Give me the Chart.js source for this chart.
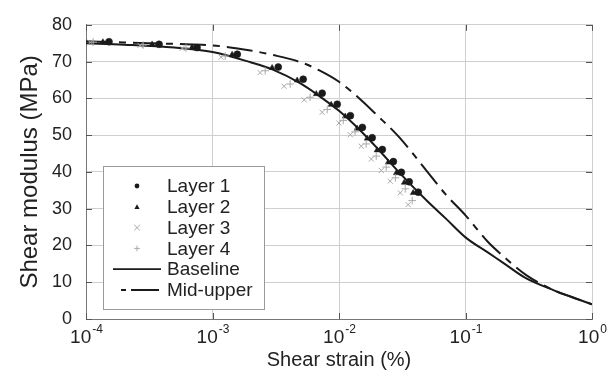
<!DOCTYPE html>
<html>
<head>
<meta charset="utf-8">
<script src="https://cdn.jsdelivr.net/npm/chart.js@4/dist/chart.umd.min.js"></script>
<style>
  html, body { margin: 0; padding: 0; background: #fff; }
  #wrap { width: 608px; height: 376px; }
</style>
</head>
<body>
<div id="wrap"><canvas id="chart"></canvas></div>
<script>
/* Shear modulus vs shear strain — layer test data + two reference curves */

// test points, strain in %, modulus in MPa
const layer1Strain  = [1.52e-4, 3.78e-4, 7.55e-4, 1.57e-3, 3.31e-3, 5.21e-3, 7.36e-3, 9.68e-3, 1.23e-2, 1.53e-2, 1.83e-2, 2.20e-2, 2.69e-2, 3.11e-2, 3.59e-2, 4.23e-2];
const layer1Modulus = [75.4, 74.7, 73.8, 72.0, 68.5, 65.2, 61.4, 58.4, 55.3, 52.1, 49.3, 46.1, 42.8, 39.9, 37.3, 34.5];

const layer2Strain  = [1.36e-4, 3.33e-4, 6.90e-4, 1.43e-3, 2.96e-3, 4.67e-3, 6.61e-3, 8.67e-3, 1.12e-2, 1.39e-2, 1.67e-2, 2.00e-2, 2.45e-2, 2.84e-2, 3.28e-2, 3.86e-2];
const layer2Modulus = [75.3, 74.7, 73.9, 71.9, 68.3, 64.9, 61.2, 58.3, 55.1, 51.8, 49.1, 45.9, 42.6, 39.7, 37.1, 34.3];

const layer3Strain  = [1.08e-4, 2.67e-4, 5.75e-4, 1.17e-3, 2.38e-3, 3.68e-3, 5.31e-3, 7.36e-3, 1.00e-2, 1.23e-2, 1.50e-2, 1.80e-2, 2.16e-2, 2.54e-2, 3.05e-2, 3.52e-2];
const layer3Modulus = [75.2, 74.4, 73.6, 71.2, 67.0, 63.3, 59.6, 56.2, 53.3, 50.1, 47.0, 43.5, 40.4, 37.5, 34.3, 31.1];

const layer4Strain  = [1.14e-4, 2.83e-4, 6.18e-4, 1.26e-3, 2.61e-3, 4.11e-3, 5.91e-3, 8.07e-3, 1.08e-2, 1.34e-2, 1.64e-2, 1.97e-2, 2.36e-2, 2.79e-2, 3.34e-2, 3.79e-2];
const layer4Modulus = [75.3, 74.5, 73.7, 71.5, 67.5, 63.9, 60.3, 57.0, 54.0, 50.9, 47.6, 44.3, 41.3, 38.4, 35.4, 32.2];

// reference curves
const curveStrain     = [1e-4, 2e-4, 5e-4, 1e-3, 2e-3, 3e-3, 5e-3, 7e-3, 1e-2, 1.5e-2, 2e-2, 3e-2, 5e-2, 7e-2, 0.1, 0.15, 0.2, 0.3, 0.5, 0.7, 1];
const baselineModulus = [75.0, 74.6, 73.8, 72.6, 69.8, 67.8, 64.0, 60.6, 56.6, 51.0, 46.5, 39.8, 32.0, 27.3, 22.2, 18.1, 15.2, 11.1, 7.8, 5.9, 4.0];
const midUpperModulus = [75.5, 75.2, 74.8, 74.4, 73.0, 71.8, 69.8, 67.6, 64.5, 59.5, 55.4, 49.4, 40.0, 33.8, 28.2, 21.0, 17.0, 12.0, 7.8, 5.9, 4.0];

// axes
const xTickValues    = [1e-4, 1e-3, 1e-2, 1e-1, 1];
const xTickExponents = ['-4', '-3', '-2', '-1', '0'];
const yTickValues    = [0, 10, 20, 30, 40, 50, 60, 70, 80];

const legendItems = [
  { label: 'Layer 1', kind: 'circle' },
  { label: 'Layer 2', kind: 'triangle' },
  { label: 'Layer 3', kind: 'crossRot' },
  { label: 'Layer 4', kind: 'cross' },
  { label: 'Baseline', kind: 'solid' },
  { label: 'Mid-upper', kind: 'dashed' }
];

const FONT = "'Liberation Sans', Arial, sans-serif";
const INK = '#1a1a1a';
const TEXT = '#222';
const GREY_PT = '#a8a8a8';
const MIDUPPER_DASH = [26, 7, 7, 7];

const pts = (xs, ys) => xs.map((x, i) => ({ x: x, y: ys[i] }));

function drawMarker(ctx, kind, cx, cy, r) {
  ctx.beginPath();
  if (kind === 'circle') {
    ctx.fillStyle = INK;
    ctx.arc(cx, cy, r, 0, Math.PI * 2);
    ctx.fill();
  } else if (kind === 'triangle') {
    ctx.fillStyle = INK;
    ctx.moveTo(cx, cy - r);
    ctx.lineTo(cx + r, cy + r * 0.8);
    ctx.lineTo(cx - r, cy + r * 0.8);
    ctx.closePath();
    ctx.fill();
  } else if (kind === 'crossRot') {
    ctx.strokeStyle = GREY_PT; ctx.lineWidth = 1;
    ctx.moveTo(cx - r, cy - r); ctx.lineTo(cx + r, cy + r);
    ctx.moveTo(cx + r, cy - r); ctx.lineTo(cx - r, cy + r);
    ctx.stroke();
  } else if (kind === 'cross') {
    ctx.strokeStyle = GREY_PT; ctx.lineWidth = 1;
    ctx.moveTo(cx - r, cy); ctx.lineTo(cx + r, cy);
    ctx.moveTo(cx, cy - r); ctx.lineTo(cx, cy + r);
    ctx.stroke();
  }
}

// frame ticks, x tick labels with superscripts, and the boxed legend
const decorations = {
  id: 'decorations',
  afterDraw(chart) {
    const { ctx, chartArea: a, scales: { x, y } } = chart;
    ctx.save();

    // inward tick marks
    ctx.strokeStyle = '#555';
    ctx.lineWidth = 1;
    ctx.beginPath();
    xTickValues.forEach(v => {
      const px = Math.round(x.getPixelForValue(v)) + 0.5;
      ctx.moveTo(px, a.bottom); ctx.lineTo(px, a.bottom - 6);
      ctx.moveTo(px, a.top); ctx.lineTo(px, a.top + 6);
    });
    yTickValues.forEach(v => {
      const py = Math.round(y.getPixelForValue(v)) + 0.5;
      ctx.moveTo(a.left, py); ctx.lineTo(a.left + 6, py);
      ctx.moveTo(a.right, py); ctx.lineTo(a.right - 6, py);
    });
    ctx.stroke();

    // x tick labels: 10 with exponent
    ctx.fillStyle = TEXT;
    ctx.textBaseline = 'alphabetic';
    xTickValues.forEach((v, i) => {
      const px = x.getPixelForValue(v);
      ctx.font = '19px ' + FONT;
      const wBase = ctx.measureText('10').width;
      ctx.font = '12px ' + FONT;
      const wExp = ctx.measureText(xTickExponents[i]).width;
      const left = px - (wBase + wExp) / 2;
      ctx.font = '19px ' + FONT;
      ctx.textAlign = 'left';
      ctx.fillText('10', left, a.bottom + 24);
      ctx.font = '12px ' + FONT;
      ctx.fillText(xTickExponents[i], left + wBase + 1, a.bottom + 14);
    });

    // legend box
    const bx = a.left + 17, bw = 161, bh = 143;
    const by = a.bottom - 10 - bh;
    ctx.fillStyle = '#fff';
    ctx.fillRect(bx, by, bw, bh);
    ctx.strokeStyle = '#9a9a9a';
    ctx.lineWidth = 1;
    ctx.strokeRect(bx + 0.5, by + 0.5, bw, bh);

    const rowH = 20.8;
    legendItems.forEach((item, i) => {
      const cy = by + 20 + i * rowH;
      if (item.kind === 'solid' || item.kind === 'dashed') {
        ctx.beginPath();
        ctx.strokeStyle = INK;
        ctx.lineWidth = 1.8;
        if (item.kind === 'solid') {
          ctx.moveTo(bx + 10, cy); ctx.lineTo(bx + 58, cy);
        } else {
          ctx.moveTo(bx + 18, cy); ctx.lineTo(bx + 23, cy);
          ctx.moveTo(bx + 28, cy); ctx.lineTo(bx + 56, cy);
        }
        ctx.stroke();
      } else {
        const r = item.kind === 'circle' ? 2.4 : (item.kind === 'triangle' ? 2.6 : 2.8);
        drawMarker(ctx, item.kind, bx + 34, cy, r);
      }
      ctx.fillStyle = TEXT;
      ctx.font = '19px ' + FONT;
      ctx.textAlign = 'left';
      ctx.textBaseline = 'middle';
      ctx.fillText(item.label, bx + 64, cy + 1);
    });

    ctx.restore();
  }
};

new Chart(document.getElementById('chart'), {
  type: 'scatter',
  data: {
    datasets: [
      {
        label: 'Layer 3', data: pts(layer3Strain, layer3Modulus),
        pointStyle: 'crossRot', pointRadius: 3.6, borderColor: GREY_PT, backgroundColor: GREY_PT, pointBorderWidth: 1
      },
      {
        label: 'Layer 4', data: pts(layer4Strain, layer4Modulus),
        pointStyle: 'cross', pointRadius: 3.8, borderColor: GREY_PT, backgroundColor: GREY_PT, pointBorderWidth: 1
      },
      {
        label: 'Baseline', data: pts(curveStrain, baselineModulus),
        showLine: true, pointRadius: 0, borderColor: INK, borderWidth: 2, cubicInterpolationMode: 'monotone'
      },
      {
        label: 'Mid-upper', data: pts(curveStrain, midUpperModulus),
        showLine: true, pointRadius: 0, borderColor: INK, borderWidth: 2, borderDash: MIDUPPER_DASH,
        cubicInterpolationMode: 'monotone'
      },
      {
        label: 'Layer 2', data: pts(layer2Strain, layer2Modulus),
        pointStyle: 'triangle', pointRadius: 3.4, borderColor: INK, backgroundColor: INK, pointBorderWidth: 0.5
      },
      {
        label: 'Layer 1', data: pts(layer1Strain, layer1Modulus),
        pointStyle: 'circle', pointRadius: 3.5, borderColor: INK, backgroundColor: INK, pointBorderWidth: 0.5
      }
    ]
  },
  options: {
    responsive: true,
    maintainAspectRatio: false,
    animation: false,
    layout: { padding: { top: 16, right: 16, left: 0, bottom: 0 } },
    plugins: {
      legend: { display: false },
      tooltip: { enabled: false }
    },
    scales: {
      x: {
        type: 'logarithmic',
        min: 1e-4,
        max: 1,
        afterBuildTicks: s => { s.ticks = xTickValues.map(v => ({ value: v })); },
        afterFit: s => { s.height = 57; },
        ticks: { display: false },
        grid: { color: '#cfcfcf', lineWidth: 1, drawTicks: false },
        border: { color: '#777', width: 1 },
        title: {
          display: true, text: 'Shear strain (%)', color: TEXT,
          font: { family: FONT, size: 20 }, padding: { top: 0, bottom: 4 }
        }
      },
      y: {
        min: 0,
        max: 80,
        afterBuildTicks: s => { s.ticks = yTickValues.map(v => ({ value: v })); },
        afterFit: s => { s.width = 86; },
        ticks: { color: TEXT, font: { family: FONT, size: 18 }, padding: 14 },
        grid: { color: '#cfcfcf', lineWidth: 1, drawTicks: false },
        border: { color: '#777', width: 1 },
        title: {
          display: true, text: 'Shear modulus (MPa)', color: TEXT,
          font: { family: FONT, size: 24 }, padding: { top: 16, bottom: 0 }
        }
      }
    }
  },
  plugins: [decorations]
});
</script>
</body>
</html>
